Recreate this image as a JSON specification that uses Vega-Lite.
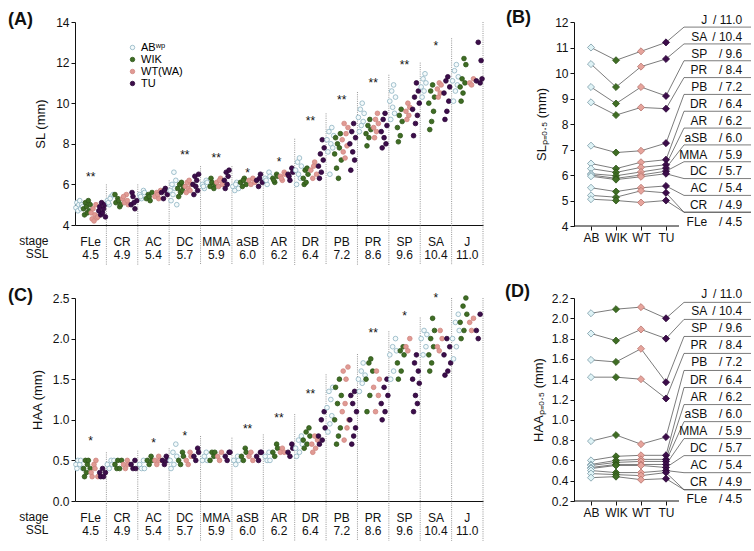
{
"$schema": "https://vega.github.io/schema/vega-lite/v6.json",
"padding": {"left": 8, "top": 8, "right": 0, "bottom": 0},
"config": {
  "font": "Liberation Sans",
  "view": {"stroke": null},
  "axis": {"labelFontSize": 12, "titleFontSize": 13, "titleFontWeight": "normal", "labelColor": "#111", "titleColor": "#111", "domainColor": "#111", "tickColor": "#111", "tickSize": 4, "grid": false, "labelPadding": 2, "labelOverlap": false},
  "title": {"fontSize": 18, "fontWeight": "bold", "anchor": "start", "frame": "group", "offset": 0, "baseline": "middle", "color": "#111", "dy": 17}
},
"datasets": {
"stages": [
{"s":"FLe","ssl":"4.5","ka":"**","ya":6.35,"kc":"*","yc":0.74},
{"s":"CR","ssl":"4.9","sa":6.0,"sc":0.6},
{"s":"AC","ssl":"5.4","sa":6.0,"sc":0.62,"kc":"*","yc":0.72},
{"s":"DC","ssl":"5.7","sa":6.2,"ka":"**","ya":7.45,"sc":0.65,"kc":"*","yc":0.8},
{"s":"MMA","ssl":"5.9","sa":6.9,"ka":"**","ya":7.3,"sc":0.8},
{"s":"aSB","ssl":"6.0","sa":6.9,"ka":"*","ya":6.55,"sc":0.78,"kc":"**","yc":0.89},
{"s":"AR","ssl":"6.2","sa":6.6,"ka":"*","ya":7.1,"sc":0.82,"kc":"**","yc":1.02},
{"s":"DR","ssl":"6.4","sa":8.25,"ka":"**","ya":9.1,"sc":1.07,"kc":"**","yc":1.32},
{"s":"PB","ssl":"7.2","sa":9.5,"ka":"**","ya":10.15,"sc":1.56},
{"s":"PR","ssl":"8.6","sa":10.55,"ka":"**","ya":11.0,"sc":1.81,"kc":"**","yc":2.07},
{"s":"SP","ssl":"9.6","sa":11.4,"ka":"**","ya":11.9,"sc":2.09,"kc":"*","yc":2.28},
{"s":"SA","ssl":"10.4","sa":12.0,"ka":"*","ya":12.8,"sc":2.26,"kc":"*","yc":2.5},
{"s":"J","ssl":"11.0","sa":13.2,"sc":2.5}
],
"lab": [
{"s":"J","t":"/ 11.0","yb":12.08,"kb":11.80,"yd":2.236,"kd":2.157},
{"s":"SA","t":"/ 10.4","yb":11.42,"kb":11.14,"yd":2.068,"kd":1.989},
{"s":"SP","t":"/ 9.6","yb":10.76,"kb":10.48,"yd":1.900,"kd":1.821},
{"s":"PR","t":"/ 8.4","yb":10.10,"kb":9.82,"yd":1.733,"kd":1.654},
{"s":"PB","t":"/ 7.2","yb":9.44,"kb":9.16,"yd":1.565,"kd":1.486},
{"s":"DR","t":"/ 6.4","yb":8.78,"kb":8.50,"yd":1.397,"kd":1.318},
{"s":"AR","t":"/ 6.2","yb":8.12,"kb":7.84,"yd":1.229,"kd":1.150},
{"s":"aSB","t":"/ 6.0","yb":7.46,"kb":7.18,"yd":1.061,"kd":0.982},
{"s":"MMA","t":"/ 5.9","yb":6.80,"kb":6.52,"yd":0.894,"kd":0.815},
{"s":"DC","t":"/ 5.7","yb":6.14,"kb":5.86,"yd":0.726,"kd":0.647},
{"s":"AC","t":"/ 5.4","yb":5.48,"kb":5.20,"yd":0.558,"kd":0.479},
{"s":"CR","t":"/ 4.9","yb":4.82,"kb":4.54,"yd":0.390,"kd":0.311},
{"s":"FLe","t":"/ 4.5","yb":4.16,"kb":4.54,"yd":0.222,"kd":0.311}
],
"slp": [
{"s":"J","g":"AB","v":11.0},{"s":"J","g":"WIK","v":10.5},{"s":"J","g":"WT","v":10.85},{"s":"J","g":"TU","v":11.2},
{"s":"SA","g":"AB","v":10.35},{"s":"SA","g":"WIK","v":9.45},{"s":"SA","g":"WT","v":10.25},{"s":"SA","g":"TU","v":10.55},
{"s":"SP","g":"AB","v":9.45},{"s":"SP","g":"WIK","v":8.8},{"s":"SP","g":"WT","v":9.45},{"s":"SP","g":"TU","v":9.1},
{"s":"PR","g":"AB","v":8.85},{"s":"PR","g":"WIK","v":8.35},{"s":"PR","g":"WT","v":8.65},{"s":"PR","g":"TU","v":8.6},
{"s":"PB","g":"AB","v":7.15},{"s":"PB","g":"WIK","v":6.88},{"s":"PB","g":"WT","v":6.95},{"s":"PB","g":"TU","v":7.25},
{"s":"DR","g":"AB","v":6.45},{"s":"DR","g":"WIK","v":6.25},{"s":"DR","g":"WT","v":6.5},{"s":"DR","g":"TU","v":6.6},
{"s":"AR","g":"AB","v":6.25},{"s":"AR","g":"WIK","v":6.1},{"s":"AR","g":"WT","v":6.3},{"s":"AR","g":"TU","v":6.4},
{"s":"aSB","g":"AB","v":6.05},{"s":"aSB","g":"WIK","v":5.97},{"s":"aSB","g":"WT","v":6.12},{"s":"aSB","g":"TU","v":6.27},
{"s":"MMA","g":"AB","v":6.0},{"s":"MMA","g":"WIK","v":5.87},{"s":"MMA","g":"WT","v":6.0},{"s":"MMA","g":"TU","v":6.15},
{"s":"DC","g":"AB","v":5.95},{"s":"DC","g":"WIK","v":5.82},{"s":"DC","g":"WT","v":5.93},{"s":"DC","g":"TU","v":6.05},
{"s":"AC","g":"AB","v":5.5},{"s":"AC","g":"WIK","v":5.35},{"s":"AC","g":"WT","v":5.5},{"s":"AC","g":"TU","v":5.57},
{"s":"CR","g":"AB","v":5.2},{"s":"CR","g":"WIK","v":5.13},{"s":"CR","g":"WT","v":5.38},{"s":"CR","g":"TU","v":5.3},
{"s":"FLe","g":"AB","v":5.05},{"s":"FLe","g":"WIK","v":5.0},{"s":"FLe","g":"WT","v":4.92},{"s":"FLe","g":"TU","v":5.0}
],
"haap": [
{"s":"J","g":"AB","v":2.05},{"s":"J","g":"WIK","v":2.09},{"s":"J","g":"WT","v":2.11},{"s":"J","g":"TU","v":2.0},
{"s":"SA","g":"AB","v":1.85},{"s":"SA","g":"WIK","v":1.78},{"s":"SA","g":"WT","v":1.89},{"s":"SA","g":"TU","v":1.8},
{"s":"SP","g":"AB","v":1.59},{"s":"SP","g":"WIK","v":1.57},{"s":"SP","g":"WT","v":1.7},{"s":"SP","g":"TU","v":1.37},
{"s":"PR","g":"AB","v":1.42},{"s":"PR","g":"WIK","v":1.42},{"s":"PR","g":"WT","v":1.4},{"s":"PR","g":"TU","v":1.21},
{"s":"PB","g":"AB","v":0.79},{"s":"PB","g":"WIK","v":0.85},{"s":"PB","g":"WT","v":0.76},{"s":"PB","g":"TU","v":0.83},
{"s":"DR","g":"AB","v":0.6},{"s":"DR","g":"WIK","v":0.64},{"s":"DR","g":"WT","v":0.65},{"s":"DR","g":"TU","v":0.65},
{"s":"AR","g":"AB","v":0.56},{"s":"AR","g":"WIK","v":0.6},{"s":"AR","g":"WT","v":0.61},{"s":"AR","g":"TU","v":0.61},
{"s":"aSB","g":"AB","v":0.55},{"s":"aSB","g":"WIK","v":0.58},{"s":"aSB","g":"WT","v":0.59},{"s":"aSB","g":"TU","v":0.59},
{"s":"MMA","g":"AB","v":0.53},{"s":"MMA","g":"WIK","v":0.56},{"s":"MMA","g":"WT","v":0.56},{"s":"MMA","g":"TU","v":0.56},
{"s":"DC","g":"AB","v":0.52},{"s":"DC","g":"WIK","v":0.55},{"s":"DC","g":"WT","v":0.55},{"s":"DC","g":"TU","v":0.53},
{"s":"AC","g":"AB","v":0.5},{"s":"AC","g":"WIK","v":0.48},{"s":"AC","g":"WT","v":0.48},{"s":"AC","g":"TU","v":0.5},
{"s":"CR","g":"AB","v":0.47},{"s":"CR","g":"WIK","v":0.46},{"s":"CR","g":"WT","v":0.45},{"s":"CR","g":"TU","v":0.48},
{"s":"FLe","g":"AB","v":0.43},{"s":"FLe","g":"WIK","v":0.44},{"s":"FLe","g":"WT","v":0.41},{"s":"FLe","g":"TU","v":0.42}
],
"sl": [
{"s":"FLe","g":"AB","f":"a1","v":4.85},{"s":"FLe","g":"AB","f":"a2","v":5.1},{"s":"FLe","g":"AB","f":"a3","v":4.7},{"s":"FLe","g":"AB","f":"a4","v":5.0},{"s":"FLe","g":"AB","f":"a5","v":5.2},{"s":"FLe","g":"AB","f":"a6","v":4.8},{"s":"FLe","g":"AB","f":"a7","v":5.0},{"s":"FLe","g":"AB","f":"a8","v":4.9},
{"s":"FLe","g":"WIK","f":"b1","v":4.8},{"s":"FLe","g":"WIK","f":"b2","v":4.5},{"s":"FLe","g":"WIK","f":"b3","v":5.1},{"s":"FLe","g":"WIK","f":"b4","v":4.9},{"s":"FLe","g":"WIK","f":"b5","v":4.6},{"s":"FLe","g":"WIK","f":"b6","v":5.2},{"s":"FLe","g":"WIK","f":"b7","v":4.7},{"s":"FLe","g":"WIK","f":"b8","v":5.0},
{"s":"FLe","g":"WT","f":"c1","v":4.6},{"s":"FLe","g":"WT","f":"c2","v":4.3},{"s":"FLe","g":"WT","f":"c3","v":4.8},{"s":"FLe","g":"WT","f":"c4","v":4.2},{"s":"FLe","g":"WT","f":"c5","v":4.5},{"s":"FLe","g":"WT","f":"c6","v":5.0},{"s":"FLe","g":"WT","f":"c7","v":4.35},{"s":"FLe","g":"WT","f":"c8","v":4.4},
{"s":"FLe","g":"TU","f":"d1","v":4.7},{"s":"FLe","g":"TU","f":"d2","v":4.9},{"s":"FLe","g":"TU","f":"d3","v":4.5},{"s":"FLe","g":"TU","f":"d4","v":5.1},{"s":"FLe","g":"TU","f":"d5","v":4.6},{"s":"FLe","g":"TU","f":"d6","v":4.8},{"s":"FLe","g":"TU","f":"d7","v":5.0},{"s":"FLe","g":"TU","f":"d8","v":4.4},
{"s":"CR","g":"AB","f":"a1","v":5.2},{"s":"CR","g":"AB","f":"a3","v":5.0},{"s":"CR","g":"AB","f":"a5","v":5.4},{"s":"CR","g":"AB","f":"a2","v":5.1},{"s":"CR","g":"AB","f":"a7","v":5.5},{"s":"CR","g":"AB","f":"a4","v":5.3},
{"s":"CR","g":"WIK","f":"b2","v":5.1},{"s":"CR","g":"WIK","f":"b4","v":5.3},{"s":"CR","g":"WIK","f":"b6","v":4.9},{"s":"CR","g":"WIK","f":"b1","v":5.5},{"s":"CR","g":"WIK","f":"b7","v":5.0},{"s":"CR","g":"WIK","f":"b5","v":5.2},
{"s":"CR","g":"WT","f":"c1","v":5.3},{"s":"CR","g":"WT","f":"c3","v":5.1},{"s":"CR","g":"WT","f":"c5","v":5.5},{"s":"CR","g":"WT","f":"c7","v":5.0},{"s":"CR","g":"WT","f":"c2","v":5.4},{"s":"CR","g":"WT","f":"c6","v":5.2},
{"s":"CR","g":"TU","f":"d2","v":5.0},{"s":"CR","g":"TU","f":"d4","v":5.4},{"s":"CR","g":"TU","f":"d6","v":4.8},{"s":"CR","g":"TU","f":"d8","v":5.2},{"s":"CR","g":"TU","f":"d3","v":5.6},{"s":"CR","g":"TU","f":"d5","v":5.1},
{"s":"AC","g":"AB","f":"a2","v":5.5},{"s":"AC","g":"AB","f":"a4","v":5.3},{"s":"AC","g":"AB","f":"a6","v":5.7},{"s":"AC","g":"AB","f":"a3","v":5.4},{"s":"AC","g":"AB","f":"a7","v":5.6},
{"s":"AC","g":"WIK","f":"b1","v":5.3},{"s":"AC","g":"WIK","f":"b3","v":5.5},{"s":"AC","g":"WIK","f":"b5","v":5.2},{"s":"AC","g":"WIK","f":"b7","v":5.6},{"s":"AC","g":"WIK","f":"b4","v":5.4},
{"s":"AC","g":"WT","f":"c2","v":5.4},{"s":"AC","g":"WT","f":"c4","v":5.6},{"s":"AC","g":"WT","f":"c6","v":5.3},{"s":"AC","g":"WT","f":"c8","v":5.7},{"s":"AC","g":"WT","f":"c5","v":5.5},
{"s":"AC","g":"TU","f":"d1","v":5.6},{"s":"AC","g":"TU","f":"d3","v":5.3},{"s":"AC","g":"TU","f":"d5","v":5.8},{"s":"AC","g":"TU","f":"d7","v":5.5},{"s":"AC","g":"TU","f":"d4","v":5.7},
{"s":"DC","g":"AB","f":"a1","v":5.7},{"s":"DC","g":"AB","f":"a2","v":5.2},{"s":"DC","g":"AB","f":"a3","v":6.0},{"s":"DC","g":"AB","f":"a4","v":5.5},{"s":"DC","g":"AB","f":"a5","v":6.6},{"s":"DC","g":"AB","f":"a6","v":5.8},{"s":"DC","g":"AB","f":"a7","v":6.2},{"s":"DC","g":"AB","f":"a8","v":5.0},
{"s":"DC","g":"WIK","f":"b1","v":5.8},{"s":"DC","g":"WIK","f":"b2","v":5.4},{"s":"DC","g":"WIK","f":"b3","v":6.0},{"s":"DC","g":"WIK","f":"b4","v":5.6},{"s":"DC","g":"WIK","f":"b5","v":6.1},{"s":"DC","g":"WIK","f":"b6","v":5.7},{"s":"DC","g":"WIK","f":"b7","v":5.9},
{"s":"DC","g":"WT","f":"c1","v":5.9},{"s":"DC","g":"WT","f":"c2","v":5.6},{"s":"DC","g":"WT","f":"c3","v":6.1},{"s":"DC","g":"WT","f":"c4","v":5.8},{"s":"DC","g":"WT","f":"c5","v":6.2},{"s":"DC","g":"WT","f":"c6","v":5.7},{"s":"DC","g":"WT","f":"c7","v":6.0},
{"s":"DC","g":"TU","f":"d1","v":6.0},{"s":"DC","g":"TU","f":"d2","v":5.5},{"s":"DC","g":"TU","f":"d3","v":6.4},{"s":"DC","g":"TU","f":"d4","v":5.9},{"s":"DC","g":"TU","f":"d5","v":6.2},{"s":"DC","g":"TU","f":"d6","v":5.7},{"s":"DC","g":"TU","f":"d7","v":6.5},
{"s":"MMA","g":"AB","f":"a2","v":6.0},{"s":"MMA","g":"AB","f":"a4","v":5.8},{"s":"MMA","g":"AB","f":"a6","v":6.2},{"s":"MMA","g":"AB","f":"a3","v":5.9},{"s":"MMA","g":"AB","f":"a7","v":6.1},
{"s":"MMA","g":"WIK","f":"b2","v":5.9},{"s":"MMA","g":"WIK","f":"b4","v":6.1},{"s":"MMA","g":"WIK","f":"b6","v":5.8},{"s":"MMA","g":"WIK","f":"b3","v":6.3},{"s":"MMA","g":"WIK","f":"b7","v":6.0},
{"s":"MMA","g":"WT","f":"c1","v":6.1},{"s":"MMA","g":"WT","f":"c3","v":5.9},{"s":"MMA","g":"WT","f":"c5","v":6.3},{"s":"MMA","g":"WT","f":"c7","v":6.0},{"s":"MMA","g":"WT","f":"c4","v":6.2},
{"s":"MMA","g":"TU","f":"d1","v":6.2},{"s":"MMA","g":"TU","f":"d2","v":5.8},{"s":"MMA","g":"TU","f":"d3","v":6.6},{"s":"MMA","g":"TU","f":"d4","v":6.0},{"s":"MMA","g":"TU","f":"d5","v":6.4},{"s":"MMA","g":"TU","f":"d6","v":6.7},
{"s":"aSB","g":"AB","f":"a1","v":5.9},{"s":"aSB","g":"AB","f":"a3","v":5.7},{"s":"aSB","g":"AB","f":"a5","v":6.1},{"s":"aSB","g":"AB","f":"a7","v":5.8},{"s":"aSB","g":"AB","f":"a4","v":6.0},
{"s":"aSB","g":"WIK","f":"b1","v":6.1},{"s":"aSB","g":"WIK","f":"b3","v":5.9},{"s":"aSB","g":"WIK","f":"b5","v":6.3},{"s":"aSB","g":"WIK","f":"b7","v":6.0},{"s":"aSB","g":"WIK","f":"b4","v":6.2},
{"s":"aSB","g":"WT","f":"c2","v":6.2},{"s":"aSB","g":"WT","f":"c4","v":6.0},{"s":"aSB","g":"WT","f":"c6","v":6.3},{"s":"aSB","g":"WT","f":"c8","v":6.1},
{"s":"aSB","g":"TU","f":"d2","v":6.2},{"s":"aSB","g":"TU","f":"d4","v":5.9},{"s":"aSB","g":"TU","f":"d6","v":6.5},{"s":"aSB","g":"TU","f":"d8","v":6.1},{"s":"aSB","g":"TU","f":"d5","v":6.3},
{"s":"AR","g":"AB","f":"a2","v":6.3},{"s":"AR","g":"AB","f":"a4","v":6.0},{"s":"AR","g":"AB","f":"a6","v":6.6},{"s":"AR","g":"AB","f":"a3","v":6.2},{"s":"AR","g":"AB","f":"a7","v":6.4},
{"s":"AR","g":"WIK","f":"b2","v":6.3},{"s":"AR","g":"WIK","f":"b4","v":6.1},{"s":"AR","g":"WIK","f":"b6","v":6.5},{"s":"AR","g":"WIK","f":"b3","v":6.2},{"s":"AR","g":"WIK","f":"b7","v":6.4},
{"s":"AR","g":"WT","f":"c2","v":6.4},{"s":"AR","g":"WT","f":"c4","v":6.2},{"s":"AR","g":"WT","f":"c6","v":6.6},{"s":"AR","g":"WT","f":"c3","v":6.3},{"s":"AR","g":"WT","f":"c7","v":6.5},
{"s":"AR","g":"TU","f":"d2","v":6.5},{"s":"AR","g":"TU","f":"d4","v":6.2},{"s":"AR","g":"TU","f":"d6","v":6.8},{"s":"AR","g":"TU","f":"d3","v":6.4},{"s":"AR","g":"TU","f":"d7","v":6.6},
{"s":"DR","g":"AB","f":"a1","v":6.7},{"s":"DR","g":"AB","f":"a2","v":6.0},{"s":"DR","g":"AB","f":"a3","v":7.1},{"s":"DR","g":"AB","f":"a4","v":6.5},{"s":"DR","g":"AB","f":"a5","v":7.3},{"s":"DR","g":"AB","f":"a6","v":6.3},{"s":"DR","g":"AB","f":"a7","v":6.9},
{"s":"DR","g":"WIK","f":"b1","v":6.3},{"s":"DR","g":"WIK","f":"b2","v":6.0},{"s":"DR","g":"WIK","f":"b3","v":6.7},{"s":"DR","g":"WIK","f":"b4","v":6.1},{"s":"DR","g":"WIK","f":"b5","v":6.8},{"s":"DR","g":"WIK","f":"b6","v":6.5},
{"s":"DR","g":"WT","f":"c1","v":6.7},{"s":"DR","g":"WT","f":"c3","v":6.3},{"s":"DR","g":"WT","f":"c5","v":7.1},{"s":"DR","g":"WT","f":"c7","v":6.5},{"s":"DR","g":"WT","f":"c4","v":6.9},
{"s":"DR","g":"TU","f":"d1","v":6.9},{"s":"DR","g":"TU","f":"d2","v":6.3},{"s":"DR","g":"TU","f":"d3","v":7.5},{"s":"DR","g":"TU","f":"d4","v":6.6},{"s":"DR","g":"TU","f":"d5","v":8.2},{"s":"DR","g":"TU","f":"d6","v":7.2},{"s":"DR","g":"TU","f":"d7","v":7.8},
{"s":"PB","g":"AB","f":"a1","v":8.2},{"s":"PB","g":"AB","f":"a2","v":7.6},{"s":"PB","g":"AB","f":"a3","v":8.6},{"s":"PB","g":"AB","f":"a4","v":6.5},{"s":"PB","g":"AB","f":"a5","v":8.0},{"s":"PB","g":"AB","f":"a6","v":8.8},{"s":"PB","g":"AB","f":"a7","v":7.8},{"s":"PB","g":"AB","f":"a8","v":8.4},
{"s":"PB","g":"WIK","f":"b1","v":7.5},{"s":"PB","g":"WIK","f":"b2","v":8.3},{"s":"PB","g":"WIK","f":"b3","v":6.8},{"s":"PB","g":"WIK","f":"b4","v":8.0},{"s":"PB","g":"WIK","f":"b5","v":6.3},{"s":"PB","g":"WIK","f":"b6","v":7.8},{"s":"PB","g":"WIK","f":"b7","v":8.5},{"s":"PB","g":"WIK","f":"b8","v":7.2},
{"s":"PB","g":"WT","f":"c1","v":8.2},{"s":"PB","g":"WT","f":"c2","v":7.6},{"s":"PB","g":"WT","f":"c3","v":9.0},{"s":"PB","g":"WT","f":"c4","v":7.3},{"s":"PB","g":"WT","f":"c5","v":8.5},{"s":"PB","g":"WT","f":"c6","v":7.9},{"s":"PB","g":"WT","f":"c7","v":8.8},
{"s":"PB","g":"TU","f":"d1","v":8.0},{"s":"PB","g":"TU","f":"d2","v":6.7},{"s":"PB","g":"TU","f":"d3","v":8.6},{"s":"PB","g":"TU","f":"d4","v":7.6},{"s":"PB","g":"TU","f":"d5","v":9.0},{"s":"PB","g":"TU","f":"d6","v":7.2},{"s":"PB","g":"TU","f":"d7","v":8.3},
{"s":"PR","g":"AB","f":"a1","v":9.3},{"s":"PR","g":"AB","f":"a2","v":8.6},{"s":"PR","g":"AB","f":"a3","v":9.7},{"s":"PR","g":"AB","f":"a4","v":8.9},{"s":"PR","g":"AB","f":"a5","v":10.0},{"s":"PR","g":"AB","f":"a6","v":9.1},{"s":"PR","g":"AB","f":"a7","v":9.5},
{"s":"PR","g":"WIK","f":"b1","v":8.5},{"s":"PR","g":"WIK","f":"b2","v":7.9},{"s":"PR","g":"WIK","f":"b3","v":8.9},{"s":"PR","g":"WIK","f":"b4","v":8.3},{"s":"PR","g":"WIK","f":"b5","v":9.2},{"s":"PR","g":"WIK","f":"b6","v":8.7},
{"s":"PR","g":"WT","f":"c1","v":8.8},{"s":"PR","g":"WT","f":"c2","v":8.3},{"s":"PR","g":"WT","f":"c3","v":9.2},{"s":"PR","g":"WT","f":"c4","v":8.6},{"s":"PR","g":"WT","f":"c5","v":9.5},{"s":"PR","g":"WT","f":"c6","v":9.0},
{"s":"PR","g":"TU","f":"d1","v":8.6},{"s":"PR","g":"TU","f":"d2","v":7.8},{"s":"PR","g":"TU","f":"d3","v":9.2},{"s":"PR","g":"TU","f":"d4","v":8.3},{"s":"PR","g":"TU","f":"d5","v":9.5},{"s":"PR","g":"TU","f":"d6","v":8.0},{"s":"PR","g":"TU","f":"d7","v":8.9},
{"s":"SP","g":"AB","f":"a1","v":10.1},{"s":"SP","g":"AB","f":"a2","v":9.2},{"s":"SP","g":"AB","f":"a3","v":10.6},{"s":"SP","g":"AB","f":"a4","v":9.8},{"s":"SP","g":"AB","f":"a5","v":10.9},{"s":"SP","g":"AB","f":"a6","v":9.5},{"s":"SP","g":"AB","f":"a7","v":10.3},
{"s":"SP","g":"WIK","f":"b1","v":8.8},{"s":"SP","g":"WIK","f":"b2","v":8.1},{"s":"SP","g":"WIK","f":"b3","v":9.4},{"s":"SP","g":"WIK","f":"b4","v":8.4},{"s":"SP","g":"WIK","f":"b5","v":9.7},{"s":"SP","g":"WIK","f":"b6","v":9.1},
{"s":"SP","g":"WT","f":"c2","v":9.6},{"s":"SP","g":"WT","f":"c3","v":9.2},{"s":"SP","g":"WT","f":"c4","v":10.0},{"s":"SP","g":"WT","f":"c5","v":9.4},{"s":"SP","g":"WT","f":"c6","v":9.8},
{"s":"SP","g":"TU","f":"d1","v":9.7},{"s":"SP","g":"TU","f":"d2","v":8.4},{"s":"SP","g":"TU","f":"d3","v":10.3},{"s":"SP","g":"TU","f":"d4","v":9.0},{"s":"SP","g":"TU","f":"d5","v":11.0},{"s":"SP","g":"TU","f":"d6","v":9.4},{"s":"SP","g":"TU","f":"d7","v":10.6},{"s":"SP","g":"TU","f":"d8","v":10.0},
{"s":"SA","g":"AB","f":"a1","v":10.8},{"s":"SA","g":"AB","f":"a2","v":10.3},{"s":"SA","g":"AB","f":"a3","v":11.2},{"s":"SA","g":"AB","f":"a4","v":10.6},{"s":"SA","g":"AB","f":"a5","v":11.45},{"s":"SA","g":"AB","f":"a6","v":11.0},
{"s":"SA","g":"WIK","f":"b1","v":10.0},{"s":"SA","g":"WIK","f":"b2","v":8.7},{"s":"SA","g":"WIK","f":"b3","v":10.6},{"s":"SA","g":"WIK","f":"b4","v":9.1},{"s":"SA","g":"WIK","f":"b5","v":10.9},{"s":"SA","g":"WIK","f":"b6","v":9.6},{"s":"SA","g":"WIK","f":"b7","v":10.3},
{"s":"SA","g":"WT","f":"c2","v":10.7},{"s":"SA","g":"WT","f":"c3","v":10.3},{"s":"SA","g":"WT","f":"c4","v":11.0},{"s":"SA","g":"WT","f":"c5","v":10.5},{"s":"SA","g":"WT","f":"c6","v":10.9},
{"s":"SA","g":"TU","f":"d1","v":10.5},{"s":"SA","g":"TU","f":"d2","v":9.2},{"s":"SA","g":"TU","f":"d3","v":11.1},{"s":"SA","g":"TU","f":"d4","v":9.6},{"s":"SA","g":"TU","f":"d5","v":11.3},{"s":"SA","g":"TU","f":"d6","v":10.1},{"s":"SA","g":"TU","f":"d7","v":10.8},
{"s":"J","g":"AB","f":"a1","v":11.1},{"s":"J","g":"AB","f":"a2","v":10.1},{"s":"J","g":"AB","f":"a3","v":11.6},{"s":"J","g":"AB","f":"a4","v":10.6},{"s":"J","g":"AB","f":"a5","v":11.9},{"s":"J","g":"AB","f":"a6","v":10.9},{"s":"J","g":"AB","f":"a7","v":11.3},
{"s":"J","g":"WIK","f":"b1","v":10.8},{"s":"J","g":"WIK","f":"b2","v":10.1},{"s":"J","g":"WIK","f":"b3","v":11.2},{"s":"J","g":"WIK","f":"b4","v":10.5},{"s":"J","g":"WIK","f":"b5","v":12.2},{"s":"J","g":"WIK","f":"b6","v":11.0},{"s":"J","g":"WIK","f":"b7","v":11.9},
{"s":"J","g":"WT","f":"c3","v":11.0},{"s":"J","g":"WT","f":"c5","v":10.9},{"s":"J","g":"WT","f":"c7","v":11.2},
{"s":"J","g":"TU","f":"d2","v":11.1},{"s":"J","g":"TU","f":"d4","v":13.0},{"s":"J","g":"TU","f":"d6","v":11.0},{"s":"J","g":"TU","f":"d7","v":12.1},{"s":"J","g":"TU","f":"d8","v":11.2}
],
"haa": [
{"s":"FLe","g":"AB","f":"a1","v":0.45},{"s":"FLe","g":"AB","f":"a2","v":0.4},{"s":"FLe","g":"AB","f":"a3","v":0.5},{"s":"FLe","g":"AB","f":"a5","v":0.45},{"s":"FLe","g":"AB","f":"a6","v":0.5},{"s":"FLe","g":"AB","f":"a8","v":0.4},
{"s":"FLe","g":"WIK","f":"b1","v":0.4},{"s":"FLe","g":"WIK","f":"b2","v":0.3},{"s":"FLe","g":"WIK","f":"b3","v":0.5},{"s":"FLe","g":"WIK","f":"b4","v":0.35},{"s":"FLe","g":"WIK","f":"b5","v":0.45},{"s":"FLe","g":"WIK","f":"b6","v":0.5},{"s":"FLe","g":"WIK","f":"b8","v":0.4},
{"s":"FLe","g":"WT","f":"c1","v":0.35},{"s":"FLe","g":"WT","f":"c2","v":0.3},{"s":"FLe","g":"WT","f":"c4","v":0.45},{"s":"FLe","g":"WT","f":"c5","v":0.4},{"s":"FLe","g":"WT","f":"c6","v":0.5},{"s":"FLe","g":"WT","f":"c8","v":0.3},
{"s":"FLe","g":"TU","f":"d2","v":0.35},{"s":"FLe","g":"TU","f":"d3","v":0.3},{"s":"FLe","g":"TU","f":"d5","v":0.4},{"s":"FLe","g":"TU","f":"d6","v":0.3},{"s":"FLe","g":"TU","f":"d8","v":0.35},
{"s":"CR","g":"AB","f":"a1","v":0.45},{"s":"CR","g":"AB","f":"a3","v":0.4},{"s":"CR","g":"AB","f":"a5","v":0.5},{"s":"CR","g":"AB","f":"a6","v":0.45},{"s":"CR","g":"AB","f":"a8","v":0.5},
{"s":"CR","g":"WIK","f":"b1","v":0.45},{"s":"CR","g":"WIK","f":"b3","v":0.4},{"s":"CR","g":"WIK","f":"b4","v":0.5},{"s":"CR","g":"WIK","f":"b6","v":0.4},{"s":"CR","g":"WIK","f":"b8","v":0.5},
{"s":"CR","g":"WT","f":"c2","v":0.45},{"s":"CR","g":"WT","f":"c4","v":0.4},{"s":"CR","g":"WT","f":"c6","v":0.5},{"s":"CR","g":"WT","f":"c7","v":0.45},
{"s":"CR","g":"TU","f":"d2","v":0.45},{"s":"CR","g":"TU","f":"d4","v":0.4},{"s":"CR","g":"TU","f":"d6","v":0.5},{"s":"CR","g":"TU","f":"d7","v":0.4},
{"s":"AC","g":"AB","f":"a2","v":0.45},{"s":"AC","g":"AB","f":"a4","v":0.4},{"s":"AC","g":"AB","f":"a6","v":0.5},{"s":"AC","g":"AB","f":"a7","v":0.4},
{"s":"AC","g":"WIK","f":"b2","v":0.5},{"s":"AC","g":"WIK","f":"b4","v":0.45},{"s":"AC","g":"WIK","f":"b6","v":0.55},{"s":"AC","g":"WIK","f":"b7","v":0.5},
{"s":"AC","g":"WT","f":"c2","v":0.5},{"s":"AC","g":"WT","f":"c4","v":0.45},{"s":"AC","g":"WT","f":"c6","v":0.55},{"s":"AC","g":"WT","f":"c7","v":0.5},
{"s":"AC","g":"TU","f":"d2","v":0.5},{"s":"AC","g":"TU","f":"d4","v":0.45},{"s":"AC","g":"TU","f":"d6","v":0.55},{"s":"AC","g":"TU","f":"d7","v":0.5},
{"s":"DC","g":"AB","f":"a1","v":0.5},{"s":"DC","g":"AB","f":"a2","v":0.4},{"s":"DC","g":"AB","f":"a4","v":0.6},{"s":"DC","g":"AB","f":"a5","v":0.45},{"s":"DC","g":"AB","f":"a7","v":0.7},{"s":"DC","g":"AB","f":"a8","v":0.55},
{"s":"DC","g":"WIK","f":"b2","v":0.5},{"s":"DC","g":"WIK","f":"b4","v":0.45},{"s":"DC","g":"WIK","f":"b6","v":0.6},{"s":"DC","g":"WIK","f":"b7","v":0.55},
{"s":"DC","g":"WT","f":"c2","v":0.5},{"s":"DC","g":"WT","f":"c4","v":0.45},{"s":"DC","g":"WT","f":"c6","v":0.6},{"s":"DC","g":"WT","f":"c7","v":0.55},
{"s":"DC","g":"TU","f":"d2","v":0.55},{"s":"DC","g":"TU","f":"d4","v":0.5},{"s":"DC","g":"TU","f":"d6","v":0.65},{"s":"DC","g":"TU","f":"d7","v":0.6},
{"s":"MMA","g":"AB","f":"a2","v":0.5},{"s":"MMA","g":"AB","f":"a4","v":0.55},{"s":"MMA","g":"AB","f":"a6","v":0.6},{"s":"MMA","g":"AB","f":"a7","v":0.5},
{"s":"MMA","g":"WIK","f":"b2","v":0.5},{"s":"MMA","g":"WIK","f":"b4","v":0.6},{"s":"MMA","g":"WIK","f":"b6","v":0.55},{"s":"MMA","g":"WIK","f":"b7","v":0.6},
{"s":"MMA","g":"WT","f":"c2","v":0.55},{"s":"MMA","g":"WT","f":"c4","v":0.5},{"s":"MMA","g":"WT","f":"c6","v":0.6},
{"s":"MMA","g":"TU","f":"d2","v":0.55},{"s":"MMA","g":"TU","f":"d4","v":0.5},{"s":"MMA","g":"TU","f":"d6","v":0.6},{"s":"MMA","g":"TU","f":"d7","v":0.6},
{"s":"aSB","g":"AB","f":"a2","v":0.5},{"s":"aSB","g":"AB","f":"a4","v":0.45},{"s":"aSB","g":"AB","f":"a6","v":0.55},{"s":"aSB","g":"AB","f":"a7","v":0.5},
{"s":"aSB","g":"WIK","f":"b2","v":0.55},{"s":"aSB","g":"WIK","f":"b4","v":0.5},{"s":"aSB","g":"WIK","f":"b6","v":0.65},{"s":"aSB","g":"WIK","f":"b7","v":0.6},
{"s":"aSB","g":"WT","f":"c2","v":0.55},{"s":"aSB","g":"WT","f":"c4","v":0.6},{"s":"aSB","g":"WT","f":"c6","v":0.5},
{"s":"aSB","g":"TU","f":"d2","v":0.55},{"s":"aSB","g":"TU","f":"d4","v":0.5},{"s":"aSB","g":"TU","f":"d6","v":0.6},{"s":"aSB","g":"TU","f":"d7","v":0.6},
{"s":"AR","g":"AB","f":"a2","v":0.55},{"s":"AR","g":"AB","f":"a4","v":0.5},{"s":"AR","g":"AB","f":"a6","v":0.6},{"s":"AR","g":"AB","f":"a7","v":0.5},
{"s":"AR","g":"WIK","f":"b2","v":0.6},{"s":"AR","g":"WIK","f":"b4","v":0.55},{"s":"AR","g":"WIK","f":"b6","v":0.7},{"s":"AR","g":"WIK","f":"b7","v":0.65},
{"s":"AR","g":"WT","f":"c2","v":0.6},{"s":"AR","g":"WT","f":"c4","v":0.65},{"s":"AR","g":"WT","f":"c6","v":0.6},
{"s":"AR","g":"TU","f":"d2","v":0.6},{"s":"AR","g":"TU","f":"d4","v":0.55},{"s":"AR","g":"TU","f":"d6","v":0.7},{"s":"AR","g":"TU","f":"d7","v":0.65},
{"s":"DR","g":"AB","f":"a1","v":0.65},{"s":"DR","g":"AB","f":"a2","v":0.55},{"s":"DR","g":"AB","f":"a4","v":0.75},{"s":"DR","g":"AB","f":"a5","v":0.6},{"s":"DR","g":"AB","f":"a7","v":0.8},{"s":"DR","g":"AB","f":"a8","v":0.7},
{"s":"DR","g":"WIK","f":"b1","v":0.75},{"s":"DR","g":"WIK","f":"b2","v":0.65},{"s":"DR","g":"WIK","f":"b4","v":0.85},{"s":"DR","g":"WIK","f":"b5","v":0.7},{"s":"DR","g":"WIK","f":"b7","v":0.9},{"s":"DR","g":"WIK","f":"b8","v":0.8},
{"s":"DR","g":"WT","f":"c2","v":0.7},{"s":"DR","g":"WT","f":"c3","v":0.6},{"s":"DR","g":"WT","f":"c5","v":0.8},{"s":"DR","g":"WT","f":"c6","v":0.65},{"s":"DR","g":"WT","f":"c8","v":0.75},
{"s":"DR","g":"TU","f":"d1","v":0.8},{"s":"DR","g":"TU","f":"d2","v":0.7},{"s":"DR","g":"TU","f":"d4","v":1.0},{"s":"DR","g":"TU","f":"d5","v":0.75},{"s":"DR","g":"TU","f":"d7","v":1.1},{"s":"DR","g":"TU","f":"d8","v":0.9},
{"s":"PB","g":"AB","f":"a1","v":1.15},{"s":"PB","g":"AB","f":"a2","v":0.85},{"s":"PB","g":"AB","f":"a3","v":1.35},{"s":"PB","g":"AB","f":"a4","v":0.95},{"s":"PB","g":"AB","f":"a5","v":1.25},{"s":"PB","g":"AB","f":"a6","v":1.05},{"s":"PB","g":"AB","f":"a7","v":1.4},
{"s":"PB","g":"WIK","f":"b1","v":1.0},{"s":"PB","g":"WIK","f":"b2","v":1.4},{"s":"PB","g":"WIK","f":"b3","v":0.7},{"s":"PB","g":"WIK","f":"b4","v":1.2},{"s":"PB","g":"WIK","f":"b5","v":0.8},{"s":"PB","g":"WIK","f":"b6","v":1.5},{"s":"PB","g":"WIK","f":"b7","v":0.9},{"s":"PB","g":"WIK","f":"b8","v":1.3},
{"s":"PB","g":"WT","f":"c1","v":1.1},{"s":"PB","g":"WT","f":"c2","v":1.6},{"s":"PB","g":"WT","f":"c3","v":0.75},{"s":"PB","g":"WT","f":"c4","v":1.2},{"s":"PB","g":"WT","f":"c5","v":1.5},{"s":"PB","g":"WT","f":"c6","v":0.9},{"s":"PB","g":"WT","f":"c7","v":1.65},{"s":"PB","g":"WT","f":"c8","v":1.0},
{"s":"PB","g":"TU","f":"d1","v":1.0},{"s":"PB","g":"TU","f":"d2","v":1.3},{"s":"PB","g":"TU","f":"d3","v":0.7},{"s":"PB","g":"TU","f":"d4","v":1.2},{"s":"PB","g":"TU","f":"d5","v":0.8},{"s":"PB","g":"TU","f":"d6","v":1.35},{"s":"PB","g":"TU","f":"d7","v":0.9},{"s":"PB","g":"TU","f":"d8","v":1.1},
{"s":"PR","g":"AB","f":"a1","v":1.5},{"s":"PR","g":"AB","f":"a2","v":1.35},{"s":"PR","g":"AB","f":"a4","v":1.6},{"s":"PR","g":"AB","f":"a5","v":1.45},{"s":"PR","g":"AB","f":"a6","v":1.7},{"s":"PR","g":"AB","f":"a8","v":1.55},
{"s":"PR","g":"WIK","f":"b1","v":1.5},{"s":"PR","g":"WIK","f":"b2","v":1.1},{"s":"PR","g":"WIK","f":"b4","v":1.7},{"s":"PR","g":"WIK","f":"b5","v":1.3},{"s":"PR","g":"WIK","f":"b6","v":1.75},{"s":"PR","g":"WIK","f":"b8","v":1.6},
{"s":"PR","g":"WT","f":"c1","v":1.4},{"s":"PR","g":"WT","f":"c3","v":1.1},{"s":"PR","g":"WT","f":"c4","v":1.6},{"s":"PR","g":"WT","f":"c6","v":1.3},{"s":"PR","g":"WT","f":"c7","v":1.5},
{"s":"PR","g":"TU","f":"d1","v":1.2},{"s":"PR","g":"TU","f":"d2","v":1.0},{"s":"PR","g":"TU","f":"d4","v":1.4},{"s":"PR","g":"TU","f":"d5","v":1.1},{"s":"PR","g":"TU","f":"d7","v":1.5},{"s":"PR","g":"TU","f":"d8","v":1.3},
{"s":"SP","g":"AB","f":"a1","v":1.8},{"s":"SP","g":"AB","f":"a2","v":1.5},{"s":"SP","g":"AB","f":"a4","v":1.9},{"s":"SP","g":"AB","f":"a5","v":1.6},{"s":"SP","g":"AB","f":"a7","v":2.0},{"s":"SP","g":"AB","f":"a8","v":1.85},
{"s":"SP","g":"WIK","f":"b1","v":1.7},{"s":"SP","g":"WIK","f":"b2","v":1.5},{"s":"SP","g":"WIK","f":"b4","v":1.85},{"s":"SP","g":"WIK","f":"b5","v":1.6},{"s":"SP","g":"WIK","f":"b7","v":1.9},{"s":"SP","g":"WIK","f":"b8","v":1.8},
{"s":"SP","g":"WT","f":"c2","v":1.9},{"s":"SP","g":"WT","f":"c4","v":1.85},{"s":"SP","g":"WT","f":"c6","v":2.0},
{"s":"SP","g":"TU","f":"d1","v":1.5},{"s":"SP","g":"TU","f":"d2","v":1.1},{"s":"SP","g":"TU","f":"d3","v":1.7},{"s":"SP","g":"TU","f":"d4","v":1.3},{"s":"SP","g":"TU","f":"d5","v":1.8},{"s":"SP","g":"TU","f":"d6","v":1.2},{"s":"SP","g":"TU","f":"d7","v":1.6},{"s":"SP","g":"TU","f":"d8","v":1.45},
{"s":"SA","g":"AB","f":"a1","v":2.0},{"s":"SA","g":"AB","f":"a3","v":1.8},{"s":"SA","g":"AB","f":"a4","v":2.1},{"s":"SA","g":"AB","f":"a6","v":1.9},{"s":"SA","g":"AB","f":"a7","v":2.05},
{"s":"SA","g":"WIK","f":"b1","v":1.8},{"s":"SA","g":"WIK","f":"b2","v":1.6},{"s":"SA","g":"WIK","f":"b3","v":2.0},{"s":"SA","g":"WIK","f":"b4","v":1.7},{"s":"SA","g":"WIK","f":"b5","v":2.25},{"s":"SA","g":"WIK","f":"b6","v":1.9},{"s":"SA","g":"WIK","f":"b7","v":2.1},
{"s":"SA","g":"WT","f":"c2","v":1.9},{"s":"SA","g":"WT","f":"c4","v":1.85},{"s":"SA","g":"WT","f":"c5","v":2.1},{"s":"SA","g":"WT","f":"c7","v":2.0},
{"s":"SA","g":"TU","f":"d1","v":1.8},{"s":"SA","g":"TU","f":"d2","v":1.55},{"s":"SA","g":"TU","f":"d4","v":2.0},{"s":"SA","g":"TU","f":"d5","v":1.6},{"s":"SA","g":"TU","f":"d7","v":1.9},{"s":"SA","g":"TU","f":"d8","v":1.7},
{"s":"J","g":"AB","f":"a1","v":2.0},{"s":"J","g":"AB","f":"a2","v":1.75},{"s":"J","g":"AB","f":"a4","v":2.2},{"s":"J","g":"AB","f":"a5","v":1.9},{"s":"J","g":"AB","f":"a7","v":2.3},{"s":"J","g":"AB","f":"a8","v":2.1},
{"s":"J","g":"WIK","f":"b1","v":2.2},{"s":"J","g":"WIK","f":"b2","v":2.0},{"s":"J","g":"WIK","f":"b4","v":2.4},{"s":"J","g":"WIK","f":"b5","v":2.1},{"s":"J","g":"WIK","f":"b7","v":2.5},{"s":"J","g":"WIK","f":"b8","v":2.3},
{"s":"J","g":"WT","f":"c3","v":2.2},{"s":"J","g":"WT","f":"c5","v":2.1},{"s":"J","g":"WT","f":"c7","v":2.25},
{"s":"J","g":"TU","f":"d2","v":2.1},{"s":"J","g":"TU","f":"d4","v":2.0},{"s":"J","g":"TU","f":"d6","v":2.3}
]
},
"resolve": {"scale": {"fill": "independent", "stroke": "independent"}},
"spacing": 17,
"vconcat": [
{
 "resolve": {"scale": {"fill": "independent", "stroke": "independent"}},
 "spacing": 20,
 "hconcat": [
 {
  "width": 408, "height": 203,
  "title": {"text": "(A)", "dx": -67},
  "layer": [
   {"data": {"name": "stages"}, "transform": [{"filter": "isValid(datum.sa)"}],
    "mark": {"type": "rule", "color": "#8a8a8a", "strokeDash": [1, 1.2], "strokeWidth": 0.9},
    "encoding": {
     "x": {"field": "s", "type": "nominal", "bandPosition": 0, "scale": {"type": "band", "domain": ["FLe","CR","AC","DC","MMA","aSB","AR","DR","PB","PR","SP","SA","J"], "paddingInner": 0, "paddingOuter": 0},
           "axis": {"title": ["stage", "SSL"], "labels": false, "ticks": false, "titleAlign": "right", "titleBaseline": "top", "titleX": -27, "titleY": 10, "titleFontSize": 12, "titleLineHeight": 13, "titleAngle": 0}},
     "y": {"field": "sa", "type": "quantitative", "scale": {"domain": [4, 14], "nice": false, "zero": false}, "axis": {"values": [4,6,8,10,12,14], "title": "SL (mm)", "titlePadding": 8, "labelOverlap": false}},
     "y2": {"datum": 2.03}
    }},
   {"data": {"name": "stages"}, "transform": [{"filter": "datum.s == 'J'"}],
    "mark": {"type": "rule", "color": "#8a8a8a", "strokeDash": [1, 1.2], "strokeWidth": 0.9},
    "encoding": {
     "x": {"field": "s", "type": "nominal", "bandPosition": 1, "scale": {"type": "band", "domain": ["FLe","CR","AC","DC","MMA","aSB","AR","DR","PB","PR","SP","SA","J"], "paddingInner": 0, "paddingOuter": 0}},
     "y": {"datum": 14}, "y2": {"datum": 2.03}
    }},
   {"data": {"name": "sl"},
    "mark": {"type": "point", "filled": true, "size": 22, "strokeWidth": 0.8, "opacity": 1},
    "encoding": {
     "x": {"field": "s", "type": "nominal", "scale": {"type": "band", "domain": ["FLe","CR","AC","DC","MMA","aSB","AR","DR","PB","PR","SP","SA","J"], "paddingInner": 0, "paddingOuter": 0}},
     "xOffset": {"field": "f", "type": "nominal", "scale": {"domain": ["a1","a2","a3","a4","a5","a6","a7","a8","b1","b2","b3","b4","b5","b6","b7","b8","c1","c2","c3","c4","c5","c6","c7","c8","d1","d2","d3","d4","d5","d6","d7","d8"], "paddingOuter": 1.5}},
     "y": {"field": "v", "type": "quantitative"},
     "fill": {"field": "g", "type": "nominal", "scale": {"domain": ["AB","WIK","WT","TU"], "range": ["#f4fafb","#3f6d24","#e19a94","#3c0d4a"]},
              "legend": {"title": null, "orient": "none", "legendX": 52, "legendY": 20, "labelExpr": "datum.label == 'AB' ? 'ABʷᵖ' : datum.label == 'WT' ? 'WT(WA)' : datum.label", "labelFontSize": 11, "symbolSize": 20, "symbolStrokeWidth": 0.8, "rowPadding": 0, "labelOffset": 3, "padding": 0, "symbolType": "circle"}},
     "stroke": {"field": "g", "type": "nominal", "scale": {"domain": ["AB","WIK","WT","TU"], "range": ["#8db3c1","#2e5519","#cf8680","#2c0638"]},
              "legend": {"title": null, "orient": "none", "legendX": 52, "legendY": 20, "labelExpr": "datum.label == 'AB' ? 'ABʷᵖ' : datum.label == 'WT' ? 'WT(WA)' : datum.label", "labelFontSize": 11, "symbolSize": 20, "symbolStrokeWidth": 0.8, "rowPadding": 0, "labelOffset": 3, "padding": 0, "symbolType": "circle"}}
    }},
   {"data": {"name": "stages"}, "mark": {"type": "text", "fontSize": 12, "baseline": "middle", "color": "#111"},
    "encoding": {
     "x": {"field": "s", "type": "nominal", "scale": {"type": "band", "domain": ["FLe","CR","AC","DC","MMA","aSB","AR","DR","PB","PR","SP","SA","J"], "paddingInner": 0, "paddingOuter": 0}},
     "y": {"field": "ya", "type": "quantitative"}, "text": {"field": "ka"}
    }},
   {"data": {"name": "stages"}, "mark": {"type": "text", "fontSize": 12, "baseline": "middle", "color": "#111"},
    "encoding": {
     "x": {"field": "s", "type": "nominal", "scale": {"type": "band", "domain": ["FLe","CR","AC","DC","MMA","aSB","AR","DR","PB","PR","SP","SA","J"], "paddingInner": 0, "paddingOuter": 0}},
     "y": {"datum": 3.16}, "text": {"field": "s"}
    }},
   {"data": {"name": "stages"}, "mark": {"type": "text", "fontSize": 12, "baseline": "middle", "color": "#111"},
    "encoding": {
     "x": {"field": "s", "type": "nominal", "scale": {"type": "band", "domain": ["FLe","CR","AC","DC","MMA","aSB","AR","DR","PB","PR","SP","SA","J"], "paddingInner": 0, "paddingOuter": 0}},
     "y": {"datum": 2.52}, "text": {"field": "ssl"}
    }}
  ]
 },
 {
  "width": 177, "height": 204,
  "title": {"text": "(B)", "dx": -68},
  "layer": [
   {"data": {"name": "slp"}, "transform": [{"calculate": "indexof(['AB','WIK','WT','TU'], datum.g) + 1", "as": "xi"}],
    "mark": {"type": "line", "color": "#444", "strokeWidth": 0.7},
    "encoding": {
     "x": {"field": "xi", "type": "quantitative", "scale": {"domain": [0.32, 7.4], "nice": false, "zero": false}, "axis": {"values": [1,2,3,4], "labelExpr": "['', 'AB', 'WIK', 'WT', 'TU'][datum.value]", "title": null, "domain": false, "labelOverlap": false}},
     "y": {"field": "v", "type": "quantitative", "scale": {"domain": [4, 12], "nice": false, "zero": false}, "axis": {"values": [4,5,6,7,8,9,10,11,12], "title": "SLₚ₌₀.₅ (mm)", "titlePadding": 6, "labelOverlap": false}},
     "detail": {"field": "s"}
    }},
   {"data": {"values": [{}]}, "mark": {"type": "rule", "color": "#111", "strokeWidth": 1},
    "encoding": {"x": {"datum": 0.32, "axis": {"values": [1,2,3,4], "labelExpr": "['', 'AB', 'WIK', 'WT', 'TU'][datum.value]", "title": null, "domain": false, "labelOverlap": false}}, "x2": {"datum": 4.52},
                 "y": {"datum": 4, "axis": {"values": [4,5,6,7,8,9,10,11,12], "title": "SLₚ₌₀.₅ (mm)", "titlePadding": 6, "labelOverlap": false}}}},
   {"data": {"name": "slp"}, "transform": [{"filter": "datum.g == 'TU'"}, {"lookup": "s", "from": {"data": {"name": "lab"}, "key": "s", "fields": ["kb"]}}],
    "mark": {"type": "rule", "color": "#444", "strokeWidth": 0.7},
    "encoding": {"x": {"datum": 4, "axis": {"values": [1,2,3,4], "labelExpr": "['', 'AB', 'WIK', 'WT', 'TU'][datum.value]", "title": null, "domain": false, "labelOverlap": false}}, "x2": {"datum": 4.72},
                 "y": {"field": "v", "type": "quantitative", "axis": {"values": [4,5,6,7,8,9,10,11,12], "title": "SLₚ₌₀.₅ (mm)", "titlePadding": 6, "labelOverlap": false}}, "y2": {"field": "kb"}}},
   {"data": {"name": "lab"}, "mark": {"type": "rule", "color": "#444", "strokeWidth": 0.7},
    "encoding": {"x": {"datum": 4.72, "axis": {"values": [1,2,3,4], "labelExpr": "['', 'AB', 'WIK', 'WT', 'TU'][datum.value]", "title": null, "domain": false, "labelOverlap": false}}, "x2": {"datum": 7.4},
                 "y": {"field": "kb", "type": "quantitative", "axis": {"values": [4,5,6,7,8,9,10,11,12], "title": "SLₚ₌₀.₅ (mm)", "titlePadding": 6, "labelOverlap": false}}}},
   {"data": {"name": "slp"}, "transform": [{"calculate": "indexof(['AB','WIK','WT','TU'], datum.g) + 1", "as": "xi"}],
    "mark": {"type": "point", "shape": "diamond", "filled": true, "size": 50, "strokeWidth": 0.8, "opacity": 1},
    "encoding": {
     "x": {"field": "xi", "type": "quantitative", "axis": {"values": [1,2,3,4], "labelExpr": "['', 'AB', 'WIK', 'WT', 'TU'][datum.value]", "title": null, "domain": false, "labelOverlap": false}},
     "y": {"field": "v", "type": "quantitative", "axis": {"values": [4,5,6,7,8,9,10,11,12], "title": "SLₚ₌₀.₅ (mm)", "titlePadding": 6, "labelOverlap": false}},
     "fill": {"field": "g", "type": "nominal", "scale": {"domain": ["AB","WIK","WT","TU"], "range": ["#dff3f6","#3f6d24","#e6a49c","#3c0d4a"]}, "legend": null},
     "stroke": {"field": "g", "type": "nominal", "scale": {"domain": ["AB","WIK","WT","TU"], "range": ["#7a99a6","#2e5519","#b7756e","#2c0638"]}, "legend": null}
    }},
   {"data": {"name": "lab"}, "mark": {"type": "text", "align": "right", "fontSize": 12, "color": "#111", "baseline": "middle"},
    "encoding": {"x": {"datum": 5.65, "axis": {"values": [1,2,3,4], "labelExpr": "['', 'AB', 'WIK', 'WT', 'TU'][datum.value]", "title": null, "domain": false, "labelOverlap": false}},
                 "y": {"field": "yb", "type": "quantitative", "axis": {"values": [4,5,6,7,8,9,10,11,12], "title": "SLₚ₌₀.₅ (mm)", "titlePadding": 6, "labelOverlap": false}}, "text": {"field": "s"}}},
   {"data": {"name": "lab"}, "mark": {"type": "text", "align": "right", "fontSize": 12, "color": "#111", "baseline": "middle"},
    "encoding": {"x": {"datum": 7.05, "axis": {"values": [1,2,3,4], "labelExpr": "['', 'AB', 'WIK', 'WT', 'TU'][datum.value]", "title": null, "domain": false, "labelOverlap": false}},
                 "y": {"field": "yb", "type": "quantitative", "axis": {"values": [4,5,6,7,8,9,10,11,12], "title": "SLₚ₌₀.₅ (mm)", "titlePadding": 6, "labelOverlap": false}}, "text": {"field": "t"}}}
  ]
 }
 ]
},
{
 "resolve": {"scale": {"fill": "independent", "stroke": "independent"}},
 "spacing": 20,
 "hconcat": [
 {
  "width": 408, "height": 203,
  "title": {"text": "(C)", "dx": -67},
  "layer": [
   {"data": {"name": "stages"}, "transform": [{"filter": "isValid(datum.sc)"}],
    "mark": {"type": "rule", "color": "#8a8a8a", "strokeDash": [1, 1.2], "strokeWidth": 0.9},
    "encoding": {
     "x": {"field": "s", "type": "nominal", "bandPosition": 0, "scale": {"type": "band", "domain": ["FLe","CR","AC","DC","MMA","aSB","AR","DR","PB","PR","SP","SA","J"], "paddingInner": 0, "paddingOuter": 0},
           "axis": {"title": ["stage", "SSL"], "labels": false, "ticks": false, "titleAlign": "right", "titleBaseline": "top", "titleX": -27, "titleY": 10, "titleFontSize": 12, "titleLineHeight": 13, "titleAngle": 0}},
     "y": {"field": "sc", "type": "quantitative", "scale": {"domain": [0, 2.5], "nice": false, "zero": false}, "axis": {"values": [0,0.5,1,1.5,2,2.5], "format": ".1f", "title": "HAA (mm)", "titlePadding": 8, "labelOverlap": false}},
     "y2": {"datum": -0.49}
    }},
   {"data": {"name": "stages"}, "transform": [{"filter": "datum.s == 'J'"}],
    "mark": {"type": "rule", "color": "#8a8a8a", "strokeDash": [1, 1.2], "strokeWidth": 0.9},
    "encoding": {
     "x": {"field": "s", "type": "nominal", "bandPosition": 1, "scale": {"type": "band", "domain": ["FLe","CR","AC","DC","MMA","aSB","AR","DR","PB","PR","SP","SA","J"], "paddingInner": 0, "paddingOuter": 0}},
     "y": {"datum": 2.5}, "y2": {"datum": -0.49}
    }},
   {"data": {"name": "haa"},
    "mark": {"type": "point", "filled": true, "size": 22, "strokeWidth": 0.8, "opacity": 1},
    "encoding": {
     "x": {"field": "s", "type": "nominal", "scale": {"type": "band", "domain": ["FLe","CR","AC","DC","MMA","aSB","AR","DR","PB","PR","SP","SA","J"], "paddingInner": 0, "paddingOuter": 0}},
     "xOffset": {"field": "f", "type": "nominal", "scale": {"domain": ["a1","a2","a3","a4","a5","a6","a7","a8","b1","b2","b3","b4","b5","b6","b7","b8","c1","c2","c3","c4","c5","c6","c7","c8","d1","d2","d3","d4","d5","d6","d7","d8"], "paddingOuter": 1.5}},
     "y": {"field": "v", "type": "quantitative"},
     "fill": {"field": "g", "type": "nominal", "scale": {"domain": ["AB","WIK","WT","TU"], "range": ["#f4fafb","#3f6d24","#e19a94","#3c0d4a"]}, "legend": null},
     "stroke": {"field": "g", "type": "nominal", "scale": {"domain": ["AB","WIK","WT","TU"], "range": ["#8db3c1","#2e5519","#cf8680","#2c0638"]}, "legend": null}
    }},
   {"data": {"name": "stages"}, "mark": {"type": "text", "fontSize": 12, "baseline": "middle", "color": "#111"},
    "encoding": {
     "x": {"field": "s", "type": "nominal", "scale": {"type": "band", "domain": ["FLe","CR","AC","DC","MMA","aSB","AR","DR","PB","PR","SP","SA","J"], "paddingInner": 0, "paddingOuter": 0}},
     "y": {"field": "yc", "type": "quantitative"}, "text": {"field": "kc"}
    }},
   {"data": {"name": "stages"}, "mark": {"type": "text", "fontSize": 12, "baseline": "middle", "color": "#111"},
    "encoding": {
     "x": {"field": "s", "type": "nominal", "scale": {"type": "band", "domain": ["FLe","CR","AC","DC","MMA","aSB","AR","DR","PB","PR","SP","SA","J"], "paddingInner": 0, "paddingOuter": 0}},
     "y": {"datum": -0.21}, "text": {"field": "s"}
    }},
   {"data": {"name": "stages"}, "mark": {"type": "text", "fontSize": 12, "baseline": "middle", "color": "#111"},
    "encoding": {
     "x": {"field": "s", "type": "nominal", "scale": {"type": "band", "domain": ["FLe","CR","AC","DC","MMA","aSB","AR","DR","PB","PR","SP","SA","J"], "paddingInner": 0, "paddingOuter": 0}},
     "y": {"datum": -0.37}, "text": {"field": "ssl"}
    }}
  ]
 },
 {
  "width": 177, "height": 203,
  "title": {"text": "(D)", "dx": -69},
  "layer": [
   {"data": {"name": "haap"}, "transform": [{"calculate": "indexof(['AB','WIK','WT','TU'], datum.g) + 1", "as": "xi"}],
    "mark": {"type": "line", "color": "#444", "strokeWidth": 0.7},
    "encoding": {
     "x": {"field": "xi", "type": "quantitative", "scale": {"domain": [0.32, 7.4], "nice": false, "zero": false}, "axis": {"values": [1,2,3,4], "labelExpr": "['', 'AB', 'WIK', 'WT', 'TU'][datum.value]", "title": null, "domain": false, "labelOverlap": false}},
     "y": {"field": "v", "type": "quantitative", "scale": {"domain": [0.2, 2.2], "nice": false, "zero": false}, "axis": {"values": [0.2,0.4,0.6,0.8,1.0,1.2,1.4,1.6,1.8,2.0,2.2], "format": ".1f", "title": "HAAₚ₌₀.₅ (mm)", "titlePadding": 6, "labelOverlap": false}},
     "detail": {"field": "s"}
    }},
   {"data": {"values": [{}]}, "mark": {"type": "rule", "color": "#111", "strokeWidth": 1},
    "encoding": {"x": {"datum": 0.32, "axis": {"values": [1,2,3,4], "labelExpr": "['', 'AB', 'WIK', 'WT', 'TU'][datum.value]", "title": null, "domain": false, "labelOverlap": false}}, "x2": {"datum": 4.52},
                 "y": {"datum": 0.2, "axis": {"values": [0.2,0.4,0.6,0.8,1.0,1.2,1.4,1.6,1.8,2.0,2.2], "format": ".1f", "title": "HAAₚ₌₀.₅ (mm)", "titlePadding": 6, "labelOverlap": false}}}},
   {"data": {"name": "haap"}, "transform": [{"filter": "datum.g == 'TU'"}, {"lookup": "s", "from": {"data": {"name": "lab"}, "key": "s", "fields": ["kd"]}}],
    "mark": {"type": "rule", "color": "#444", "strokeWidth": 0.7},
    "encoding": {"x": {"datum": 4, "axis": {"values": [1,2,3,4], "labelExpr": "['', 'AB', 'WIK', 'WT', 'TU'][datum.value]", "title": null, "domain": false, "labelOverlap": false}}, "x2": {"datum": 4.72},
                 "y": {"field": "v", "type": "quantitative", "axis": {"values": [0.2,0.4,0.6,0.8,1.0,1.2,1.4,1.6,1.8,2.0,2.2], "format": ".1f", "title": "HAAₚ₌₀.₅ (mm)", "titlePadding": 6, "labelOverlap": false}}, "y2": {"field": "kd"}}},
   {"data": {"name": "lab"}, "mark": {"type": "rule", "color": "#444", "strokeWidth": 0.7},
    "encoding": {"x": {"datum": 4.72, "axis": {"values": [1,2,3,4], "labelExpr": "['', 'AB', 'WIK', 'WT', 'TU'][datum.value]", "title": null, "domain": false, "labelOverlap": false}}, "x2": {"datum": 7.4},
                 "y": {"field": "kd", "type": "quantitative", "axis": {"values": [0.2,0.4,0.6,0.8,1.0,1.2,1.4,1.6,1.8,2.0,2.2], "format": ".1f", "title": "HAAₚ₌₀.₅ (mm)", "titlePadding": 6, "labelOverlap": false}}}},
   {"data": {"name": "haap"}, "transform": [{"calculate": "indexof(['AB','WIK','WT','TU'], datum.g) + 1", "as": "xi"}],
    "mark": {"type": "point", "shape": "diamond", "filled": true, "size": 50, "strokeWidth": 0.8, "opacity": 1},
    "encoding": {
     "x": {"field": "xi", "type": "quantitative", "axis": {"values": [1,2,3,4], "labelExpr": "['', 'AB', 'WIK', 'WT', 'TU'][datum.value]", "title": null, "domain": false, "labelOverlap": false}},
     "y": {"field": "v", "type": "quantitative", "axis": {"values": [0.2,0.4,0.6,0.8,1.0,1.2,1.4,1.6,1.8,2.0,2.2], "format": ".1f", "title": "HAAₚ₌₀.₅ (mm)", "titlePadding": 6, "labelOverlap": false}},
     "fill": {"field": "g", "type": "nominal", "scale": {"domain": ["AB","WIK","WT","TU"], "range": ["#dff3f6","#3f6d24","#e6a49c","#3c0d4a"]}, "legend": null},
     "stroke": {"field": "g", "type": "nominal", "scale": {"domain": ["AB","WIK","WT","TU"], "range": ["#7a99a6","#2e5519","#b7756e","#2c0638"]}, "legend": null}
    }},
   {"data": {"name": "lab"}, "mark": {"type": "text", "align": "right", "fontSize": 12, "color": "#111", "baseline": "middle"},
    "encoding": {"x": {"datum": 5.65, "axis": {"values": [1,2,3,4], "labelExpr": "['', 'AB', 'WIK', 'WT', 'TU'][datum.value]", "title": null, "domain": false, "labelOverlap": false}},
                 "y": {"field": "yd", "type": "quantitative", "axis": {"values": [0.2,0.4,0.6,0.8,1.0,1.2,1.4,1.6,1.8,2.0,2.2], "format": ".1f", "title": "HAAₚ₌₀.₅ (mm)", "titlePadding": 6, "labelOverlap": false}}, "text": {"field": "s"}}},
   {"data": {"name": "lab"}, "mark": {"type": "text", "align": "right", "fontSize": 12, "color": "#111", "baseline": "middle"},
    "encoding": {"x": {"datum": 7.05, "axis": {"values": [1,2,3,4], "labelExpr": "['', 'AB', 'WIK', 'WT', 'TU'][datum.value]", "title": null, "domain": false, "labelOverlap": false}},
                 "y": {"field": "yd", "type": "quantitative", "axis": {"values": [0.2,0.4,0.6,0.8,1.0,1.2,1.4,1.6,1.8,2.0,2.2], "format": ".1f", "title": "HAAₚ₌₀.₅ (mm)", "titlePadding": 6, "labelOverlap": false}}, "text": {"field": "t"}}}
  ]
 }
 ]
}
]
}
